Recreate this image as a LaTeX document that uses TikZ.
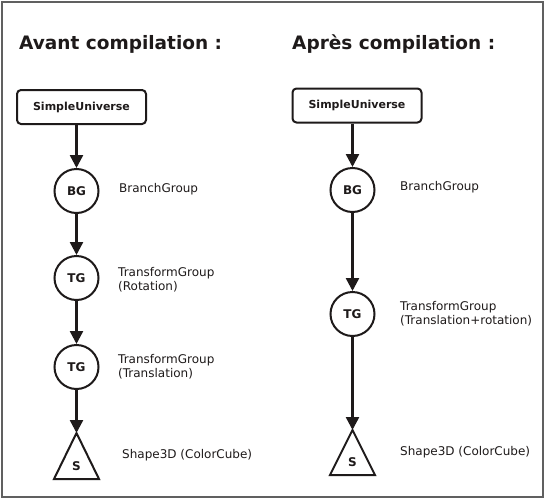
\documentclass[tikz,border=0pt]{standalone}
\usepackage{fontspec}
\setmainfont{DejaVu Sans}
\usetikzlibrary{arrows.meta}
\definecolor{ink}{HTML}{1E1A1A}
\tikzset{
  title/.style={anchor=base west, font=\fontsize{18.5}{22}\selectfont\bfseries, text=ink, inner sep=0pt},
  ubox/.style={draw=ink, line width=2pt, rounded corners=4pt, minimum width=129pt, minimum height=34pt, inner sep=0pt, font=\fontsize{11}{13}\selectfont\bfseries, text=ink},
  grp/.style={circle, draw=ink, line width=2pt, minimum size=44pt, inner sep=0pt, font=\fontsize{12}{14}\selectfont\bfseries, text=ink, fill=white},
  slbl/.style={font=\fontsize{12}{14}\selectfont\bfseries, text=ink, inner sep=0pt},
  lbl/.style={anchor=west, align=left, font=\fontsize{12}{14}\selectfont, text=ink, inner sep=0pt},
  tri/.style={draw=ink, line width=2pt, line join=miter},
  arr/.style={draw=ink, line width=2.5pt, -{Triangle[length=13pt,width=13pt]}},
}
\begin{document}
\begin{tikzpicture}[x=1pt,y=-1pt]
\useasboundingbox (0,0) rectangle (547,501);
\fill[white] (0,0) rectangle (547,501);
\draw[gray!75!black, line width=1.6pt] (2,2) rectangle (543,497);
% titles
\node[title] (t1) at (19,49) {Avant compilation :};
\node[title] (t2) at (292,49) {Après compilation :};
% left column
\node[ubox] (su1) at (81.5,107) {SimpleUniverse};
\node[grp] (bg1) at (76.5,191) {BG};
\node[grp] (tg1) at (76.5,278) {TG};
\node[grp] (tg2) at (76.5,367) {TG};
\coordinate (s1) at (76.5,433);
\draw[tri] (s1) -- (54,479) -- (99,479) -- cycle;
\node[slbl] (s1t) at (76.5,466) {S};
\draw[arr] (su1.south -| bg1) -- (bg1.north);
\draw[arr] (bg1.south) -- (tg1.north);
\draw[arr] (tg1.south) -- (tg2.north);
\draw[arr] (tg2.south) -- (s1);
\node[lbl] (l1) at (119,189) {BranchGroup};
\node[lbl] (l2) at (118,280) {TransformGroup\\(Rotation)};
\node[lbl] (l3) at (118,367) {TransformGroup\\(Translation)};
\node[lbl] (l4) at (122,455) {Shape3D (ColorCube)};
% right column
\node[ubox] (su2) at (357,105.5) {SimpleUniverse};
\node[grp] (bg2) at (352.5,190) {BG};
\node[grp] (tg3) at (352.5,314) {TG};
\coordinate (s2) at (352.5,430);
\draw[tri] (s2) -- (330,475) -- (375,475) -- cycle;
\node[slbl] (s2t) at (352.5,462) {S};
\draw[arr] (su2.south -| bg2) -- (bg2.north);
\draw[arr] (bg2.south) -- (tg3.north);
\draw[arr] (tg3.south) -- (s2);
\node[lbl] (r1) at (400,187) {BranchGroup};
\node[lbl] (r2) at (400,314) {TransformGroup\\(Translation+rotation)};
\node[lbl] (r3) at (400,452) {Shape3D (ColorCube)};
\end{tikzpicture}
\end{document}
